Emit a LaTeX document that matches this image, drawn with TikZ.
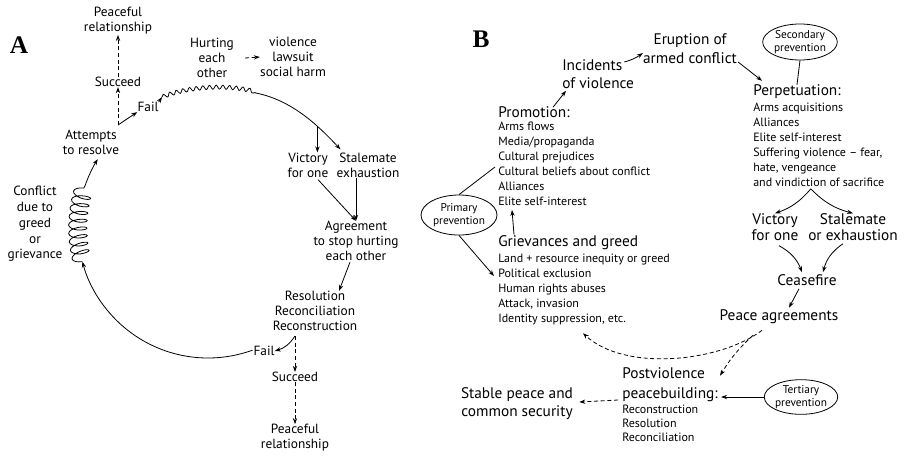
\documentclass[tikz,border=0pt]{standalone}
\usepackage{fontspec}
\setmainfont{PT Sans}
\newfontfamily\panelfont{Liberation Serif}
\usetikzlibrary{arrows.meta,decorations.pathmorphing,calc,shapes.geometric}
\begin{document}
\begin{tikzpicture}[x=0.75pt,y=-0.75pt,
  txt/.style={inner sep=0pt, align=center, font=\fontsize{10}{11.3}\selectfont},
  big/.style={inner sep=0pt, align=center, font=\fontsize{11.5}{13.5}\selectfont},
  head/.style={inner sep=0pt, anchor=west, font=\fontsize{11.5}{13.5}\selectfont},
  lst/.style={inner sep=0pt, align=left, anchor=north west, font=\fontsize{9}{11.2}\selectfont},
  oval/.style={draw, ellipse, inner sep=0pt, align=center, line width=0.6pt,
    font=\fontsize{8.5}{10}\selectfont},
  panel/.style={inner sep=0pt, font=\panelfont\bfseries\fontsize{19}{19}\selectfont},
  plain/.style={line width=0.6pt},
  conn/.style={line width=0.6pt, -{Stealth[length=4.5pt,width=3.2pt]}},
  dsh/.style={dash pattern=on 3pt off 2pt},
]
\useasboundingbox (0,0) rectangle (901,455);

% ---------------- Panel A: the conflict cycle ----------------
\node[panel] (lA) at (19,45) {A};
\node[txt] (prA) at (118,21) {Peaceful\\relationship};
\node[txt] (sucA) at (118,82) {Succeed};
\node[txt] (att) at (91,142) {Attempts\\to resolve};
\node[txt] (failA) at (148,107) {Fail};
\node[txt] (hurt) at (212,58) {Hurting\\each\\other};
\node[txt] (harm) at (293,57) {violence\\lawsuit\\social harm};
\node[txt] (vicA) at (308,165) {Victory\\for one};
\node[txt] (stalA) at (368,165) {Stalemate\\exhaustion};
\node[txt] (agr) at (356,241) {Agreement\\to stop hurting\\each other};
\node[txt] (res) at (315,311) {Resolution\\Reconciliation\\Reconstruction};
\node[txt] (failB) at (264,351) {Fail};
\node[txt] (sucB) at (295,377) {Succeed};
\node[txt] (prB) at (295,438) {Peaceful\\relationship};
\node[txt, font=\fontsize{10}{11.8}\selectfont] (conf) at (35,224) {Conflict\\due to\\greed\\or\\grievance};

% points on the big loop
\coordinate (ctr) at (208,228);
\coordinate (aF) at ($(ctr)+(70:130)$);
\coordinate (aC1) at ($(ctr)+(165:130)$);
\coordinate (aC2) at ($(ctr)+(199:130)$);
\coordinate (j1) at (118,125);
\coordinate (w0) at (162,97);
\coordinate (w1) at (256,93);
\coordinate (j2) at (295,336);

% failure returns to the conflict
\draw[conn] (aF) arc[start angle=70, end angle=165, radius=130];
\draw[plain, decorate, decoration={coil, amplitude=7pt, segment length=6pt, aspect=0.35}]
  (aC1) arc[start angle=165, end angle=199, radius=130];
\draw[conn] (aC2) arc[start angle=199, end angle=212, radius=130];

% attempts to resolve
\draw[conn, dsh] (j1) -- (sucA.south);
\draw[conn, dsh] (sucA.north) -- (prA.south);
\draw[conn] (j1) -- (failA.south west);
\draw[conn] (failA.north east) -- (w0);

% hurting each other
\draw[plain, decorate, decoration={snake, amplitude=1.5pt, segment length=5pt}]
  (w0) .. controls (190,86) and (232,85) .. (w1);
\draw[conn] (w1) .. controls (290,100) and (315,122) .. coordinate[pos=0.7] (br) ($(stalA.north west)+(4,-3)$);
\draw[conn] (br) -- (br |- vicA.north);
\draw[conn, dsh] ($(hurt.east)+(11,0)$) -- (harm.west);

% towards agreement
\draw[conn] ($(vicA.south)+(10,2)$) -- (agr.north);
\draw[conn] (stalA.south -| agr.north) -- (agr.north);
\draw[conn] ($(agr.south)+(-6,1)$) -- ($(res.north)+(24,0)$);
\draw[conn] (j2) to[bend left=20] (failB.east);
\draw[conn, dsh] (j2) -- (sucB.north);
\draw[conn, dsh] (sucB.south) -- (prB.north);

% ---------------- Panel B: the violence cycle ----------------
\node[panel] (lB) at (481,39) {B};
\node[big, align=left, anchor=west] (inc) at (562,74) {Incidents\\of violence};
\node[big, font=\fontsize{11.5}{14.2}\selectfont] (erup) at (690,49) {Eruption of\\armed conflict};
\node[oval, minimum width=56pt, minimum height=27pt] (sec) at (800,42) {Secondary\\prevention};
\node[head] (perpH) at (753,92) {Perpetuation:};
\node[lst] (perpL) at (753,103) {Arms acquisitions\\Alliances\\Elite self-interest\\Suffering violence -- fear,\\hate, vengeance\\and vindiction of sacrifice};
\node[big, font=\fontsize{11.5}{11.8}\selectfont] (vicB) at (775,227) {Victory\\for one};
\node[big, font=\fontsize{11.5}{11.8}\selectfont] (stalB) at (853,227) {Stalemate\\or exhaustion};
\node[big] (cease) at (807,280) {Ceasefire};
\node[big] (peace) at (779,317) {Peace agreements};
\node[big, align=left, anchor=west, font=\fontsize{11.5}{15}\selectfont] (postH) at (622,385) {Postviolence\\peacebuilding:};
\node[lst, font=\fontsize{9}{10.5}\selectfont] (postL) at (622,405) {Reconstruction\\Resolution\\Reconciliation};
\node[oval, minimum width=55pt, minimum height=26pt] (ter) at (801,397) {Tertiary\\prevention};
\node[big] (stable) at (517,404) {Stable peace and\\common security};
\node[head] (promoH) at (498,112) {Promotion:};
\node[lst] (promoL) at (498,122) {Arms flows\\Media/propaganda\\Cultural prejudices\\Cultural beliefs about conflict\\Alliances\\Elite self-interest};
\node[oval, minimum width=57pt, minimum height=30pt] (prim) at (459,215) {Primary\\prevention};
\node[head] (grievH) at (498,243) {Grievances and greed};
\node[lst] (grievL) at (498,254) {Land + resource inequity or greed\\Political exclusion\\Human rights abuses\\Attack, invasion\\Identity suppression, etc.};

\coordinate (apx) at ($(perpL.south)+(-8,2)$);

\draw[conn] ($(promoH.north west)+(55,1)$) -- ($(inc.south west)+(4,2)$);
\draw[conn] ($(inc.east)+(-10,-12)$) to[bend right=10] ($(erup.west)+(0,4)$);
\draw[conn] ($(erup.east)+(1,13)$) -- ($(perpH.north west)+(9,-4)$);
\draw[plain] (sec.south) -- (perpH.north);
\draw[conn] (apx) to[bend left=15] (vicB.north);
\draw[conn] (apx) to[bend right=15] (stalB.north);
\draw[conn] ($(vicB.south)+(4,5)$) to[bend left=20] ($(cease.north)+(-5,-2)$);
\draw[conn] ($(stalB.south)+(-10,3)$) to[bend right=20] ($(cease.north)+(16,-2)$);
\draw[conn] ($(cease.south)+(-8,3)$) -- ($(peace.north)+(10,-2)$);
\draw[conn, dsh] ($(peace.south)+(-17,6)$) .. controls (720,362) and (625,372) .. ($(grievL.south west)+(85,8)$);
\draw[conn, dsh] ($(peace.south)+(-26,11)$) to[bend right=8] ($(postH.north east)+(2,8)$);
\draw[conn] (ter.west) -- ($(ter.west -| postH.east)+(3,0)$);
\draw[conn, dsh] ($(postH.west)+(-4,15)$) -- ($(stable.east)+(6,-2)$);
\draw[plain] (prim.north) -- ($(promoL.north west)+(-3,45)$);
\draw[conn] (prim.south) -- ($(grievL.north west)+(-4,22)$);
\draw[conn] ($(grievH.north west)+(16,-1)$) -- ($(promoL.south west)+(14,4)$);
\end{tikzpicture}
\end{document}
